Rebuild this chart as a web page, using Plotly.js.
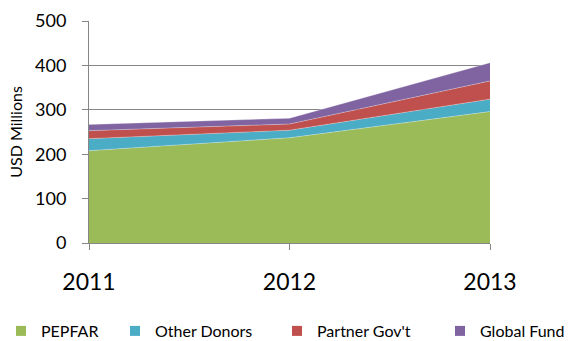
<!DOCTYPE html>
<html>
<head>
<meta charset="utf-8">
<script src="https://cdn.plot.ly/plotly-3.0.1.min.js"></script>
<style>html,body{margin:0;padding:0;background:#fff;}#chart{width:580px;height:341px;}</style>
</head>
<body>
<div id="chart"></div>
<script>
const years = [2011, 2012, 2013];
const pepfar = [208, 237, 296];
const otherDonors = [27, 17, 28];
const partnerGov = [18, 14, 41];
const globalFund = [14, 13, 41];
const seriesNames = ["PEPFAR", "Other Donors", "Partner Gov't", "Global Fund"];
const seriesColors = ["#9BBB59", "#4BACC6", "#C0504D", "#8064A2"];
const seriesValues = [pepfar, otherDonors, partnerGov, globalFund];
const yTicks = [0, 100, 200, 300, 400, 500];

const legendIds = ['legend', 'legend2', 'legend3', 'legend4'];
const legendLeftPx = [1, 115, 277, 440];

const traces = [];
seriesValues.forEach((vals, i) => {
  traces.push({
    x: years, y: vals, type: 'scatter', mode: 'lines', stackgroup: 'one',
    name: seriesNames[i], fillcolor: seriesColors[i],
    line: {width: 0.6, color: 'rgba(255,255,255,0.5)'},
    showlegend: false, hoverinfo: 'skip'
  });
});
seriesValues.forEach((vals, i) => {
  traces.push({
    x: [null], y: [null], type: 'scatter', mode: 'markers',
    name: seriesNames[i], legend: legendIds[i],
    marker: {symbol: 'square', size: 10, color: seriesColors[i]},
    showlegend: true
  });
});

const layout = {
  width: 580, height: 341,
  margin: {l: 89, r: 90, t: 21, b: 98, autoexpand: false},
  paper_bgcolor: '#fff', plot_bgcolor: '#fff',
  font: {family: 'Lato, "Open Sans", sans-serif', color: '#000'},
  showlegend: true,
  xaxis: {
    range: [2011, 2013], tickvals: years, ticktext: years.map(String),
    showgrid: false, zeroline: false,
    showline: true, linecolor: '#868686', linewidth: 1,
    ticks: 'outside', ticklen: 6, tickcolor: '#868686',
    tickfont: {size: 23}, ticklabelstandoff: 12
  },
  yaxis: {
    range: [0, 500], tickvals: yTicks,
    showgrid: true, gridcolor: '#868686', gridwidth: 1,
    zeroline: false, showline: true, linecolor: '#868686', linewidth: 1,
    ticks: 'outside', ticklen: 6, tickcolor: '#868686',
    tickfont: {size: 18}, ticklabelstandoff: 12,
    title: {text: 'USD Millions', font: {size: 16}, standoff: 8}
  }
};
legendIds.forEach((id, i) => {
  layout[id] = {
    orientation: 'h',
    xref: 'container', x: legendLeftPx[i] / 580, xanchor: 'left',
    yref: 'container', y: 10 / 341, yanchor: 'middle',
    font: {size: 16, color: '#000'},
    bgcolor: 'rgba(0,0,0,0)', itemwidth: 30
  };
});

Plotly.newPlot('chart', traces, layout, {staticPlot: true, displayModeBar: false});
</script>
</body>
</html>
